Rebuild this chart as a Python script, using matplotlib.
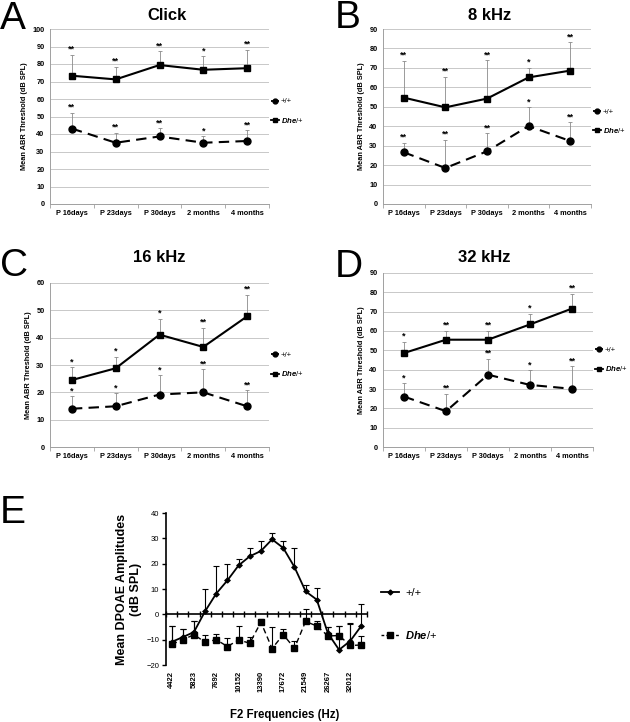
import matplotlib
matplotlib.use('Agg')
import matplotlib.pyplot as plt
from matplotlib.lines import Line2D
import numpy as np

plt.rcParams['font.family'] = ['Liberation Sans', 'DejaVu Sans']
plt.rcParams['mathtext.fontset'] = 'custom'
plt.rcParams['mathtext.it'] = 'Liberation Sans:italic:bold'
plt.rcParams['mathtext.rm'] = 'Liberation Sans:bold'

# ABR panels (A-D)
ages = ['P 16days', 'P 23days', 'P 30days', '2 months', '4 months']

click_dhe = [73.3, 71.2, 79.4, 76.7, 77.6]
click_dhe_top = [85.2, 78.3, 87.3, 84.4, 88.0]
click_dhe_sig = ['**', '**', '**', '*', '**']
click_wt = [43.1, 35.0, 38.6, 35.0, 36.0]
click_wt_top = [52.2, 40.7, 43.2, 38.6, 42.1]
click_wt_sig = ['**', '**', '**', '*', '**']

k8_dhe = [54.7, 49.7, 54.2, 65.1, 68.6]
k8_dhe_top = [73.5, 65.3, 74.0, 70.1, 83.1]
k8_dhe_sig = ['**', '**', '**', '*', '**']
k8_wt = [26.6, 18.5, 27.1, 40.1, 32.4]
k8_wt_top = [31.5, 32.9, 36.3, 49.7, 42.0]
k8_wt_sig = ['**', '**', '**', '*', '**']

k16_dhe = [24.5, 28.8, 41.1, 36.6, 47.8]
k16_dhe_top = [29.1, 33.1, 46.9, 43.6, 55.6]
k16_dhe_sig = ['*', '*', '*', '**', '**']
k16_wt = [14.0, 14.9, 19.2, 20.0, 14.9]
k16_wt_top = [18.5, 19.7, 26.2, 28.4, 20.7]
k16_wt_sig = ['*', '*', '*', '**', '**']

k32_dhe = [48.6, 55.5, 55.5, 63.4, 71.6]
k32_dhe_top = [54.4, 60.1, 60.1, 69.0, 79.2]
k32_dhe_sig = ['*', '**', '**', '*', '**']
k32_wt = [26.1, 18.5, 37.4, 32.1, 30.1]
k32_wt_top = [33.0, 27.5, 45.7, 39.7, 41.7]
k32_wt_sig = ['*', '**', '**', '*', '**']

# DPOAE panel (E)
f2_labels = ['4422', '5823', '7692', '10152', '13390', '17672', '21549', '26267', '32012']
dp_wt = [-10.9, -9.0, -7.0, 1.2, 8.2, 13.4, 19.3, 22.9, 25.0, 29.6, 26.2, 18.7,
         9.1, 5.8, -7.5, -14.0, -10.5, -4.5]
dp_wt_top = [-4.5, -5.8, -2.5, 10.0, 19.0, 19.7, 21.8, 26.0, 28.9, 32.0, 29.0, 26.0,
             11.5, 10.2, -5.0, -4.5, -4.0, 4.0]
dp_dhe = [-11.8, -10.1, -8.0, -11.0, -10.0, -12.7, -10.1, -11.4, -3.1, -13.5, -8.0, -13.4,
          -2.8, -4.6, -8.5, -8.4, -12.3, -12.1]
dp_dhe_top = [-4.5, -5.8, -2.5, -8.2, -7.9, -9.5, -4.5, -8.8, -2.0, -4.9, -5.6, -10.4,
              2.0, -2.8, -5.0, -4.5, -3.6, -8.5]

W, H = 630, 722
fig = plt.figure(figsize=(W / 100, H / 100), dpi=100)


def rect(x0, y0, x1, y1):
    return [x0 / W, 1 - y1 / H, (x1 - x0) / W, (y1 - y0) / H]


dhe_label = r'$\mathit{Dhe}$/+'


def abr_panel(box, title, title_xy, letter, letter_xy, ymax,
              dhe, dhe_top, dhe_sig, wt, wt_top, wt_sig, leg_y):
    ax = fig.add_axes(rect(*box))
    x = np.arange(len(ages))
    ax.set_xlim(-0.5, len(ages) - 0.5)
    ax.set_ylim(0, ymax)
    ax.set_yticks(np.arange(0, ymax + 1, 10))
    ax.grid(axis='y', color='#c8c8c8', lw=0.7)
    ax.set_axisbelow(True)
    for s in ['top', 'right']:
        ax.spines[s].set_visible(False)
    for s in ['left', 'bottom']:
        ax.spines[s].set_color('#a0a0a0')
        ax.spines[s].set_linewidth(0.7)
    ax.set_xticks(np.arange(-0.5, len(ages), 1.0))
    ax.set_xticklabels([])
    ax.set_xticks(x, minor=True)
    ax.set_xticklabels(ages, minor=True, fontsize=5.3, fontweight='bold')
    ax.tick_params(axis='x', which='major', length=3, color='#a0a0a0', width=0.6)
    ax.tick_params(axis='x', which='minor', length=0, pad=4)
    ax.tick_params(axis='y', length=0, labelsize=5.3, pad=4)
    for lab in ax.get_yticklabels():
        lab.set_fontweight('bold')
    ax.set_ylabel('Mean ABR Threshold (dB SPL)', fontsize=5.3, fontweight='bold', labelpad=3)

    for vals, tops, sig, ls, mk in [(dhe, dhe_top, dhe_sig, '-', 's'),
                                    (wt, wt_top, wt_sig, (0, (5, 3)), 'o')]:
        vals = np.array(vals)
        tops = np.array(tops)
        ax.errorbar(x, vals, yerr=[np.zeros_like(vals), tops - vals], fmt='none',
                    ecolor='#8a8a8a', elinewidth=0.6, capsize=1.5, capthick=0.6, zorder=2)
        ax.plot(x, vals, color='black', lw=1.5, linestyle=ls, marker=mk,
                markersize=5, zorder=3)
        for xi, t, s in zip(x, tops, sig):
            ax.text(xi, t + ymax * 0.006, s, ha='center', va='bottom',
                    fontsize=6.5, fontweight='bold')

    handles = [Line2D([], [], color='black', lw=1.3, linestyle=(0, (2, 1.5)), marker='o', markersize=3.5),
               Line2D([], [], color='black', lw=1.3, marker='s', markersize=3.5)]
    ax.legend(handles, ['+/+', dhe_label], loc='center left',
              bbox_to_anchor=(1.0, leg_y), frameon=False, fontsize=5.6,
              borderaxespad=0.1, borderpad=0.1,
              handlelength=1.1, handletextpad=0.2, labelspacing=1.3, markerfirst=True)

    fig.text(title_xy[0] / W, 1 - title_xy[1] / H, title, ha='center', va='center',
             fontsize=12, fontweight='bold')
    fig.text(letter_xy[0] / W, 1 - letter_xy[1] / H, letter, ha='left', va='baseline', fontsize=28)
    return ax


abr_panel((50, 29, 269, 204), 'Click', (167, 16), 'A', (0, 29), 100,
          click_dhe, click_dhe_top, click_dhe_sig, click_wt, click_wt_top, click_wt_sig, 0.53)
abr_panel((383, 29, 591, 204), '8 kHz', (490, 16), 'B', (335, 28), 90,
          k8_dhe, k8_dhe_top, k8_dhe_sig, k8_wt, k8_wt_top, k8_wt_sig, 0.47)
abr_panel((50, 283, 269, 447), '16 kHz', (159, 257), 'C', (0, 276), 60,
          k16_dhe, k16_dhe_top, k16_dhe_sig, k16_wt, k16_wt_top, k16_wt_sig, 0.5)
abr_panel((383, 273, 593, 447), '32 kHz', (484, 257), 'D', (335, 277), 90,
          k32_dhe, k32_dhe_top, k32_dhe_sig, k32_wt, k32_wt_top, k32_wt_sig, 0.5)

# Panel E
ax = fig.add_axes(rect(166, 513, 367, 665))
n = len(dp_wt)
xe = np.arange(n)
ax.set_xlim(-0.5, n - 0.5)
ax.set_ylim(-20, 40)
ax.set_yticks(np.arange(-20, 41, 10))
for s in ['top', 'right', 'bottom']:
    ax.spines[s].set_visible(False)
ax.spines['left'].set_linewidth(1.2)
ax.tick_params(axis='y', direction='out', length=3, width=1, labelsize=5.5, pad=2)
ax.set_xticks(xe[::2])
ax.set_xticklabels(f2_labels, rotation=90, fontsize=5.5, fontweight='bold')
ax.tick_params(axis='x', length=0, pad=4)

zero_ax = ax.secondary_xaxis(20 / 60)
zero_ax.set_xticks(np.arange(-0.5, n, 1.0))
zero_ax.set_xticklabels([])
zero_ax.tick_params(direction='inout', length=5, width=1)
zero_ax.spines['bottom'].set_linewidth(1.2)

wt = np.array(dp_wt)
wt_top = np.array(dp_wt_top)
dhe = np.array(dp_dhe)
dhe_top = np.array(dp_dhe_top)
ax.errorbar(xe, dhe, yerr=[np.zeros(n), dhe_top - dhe], fmt='none', ecolor='black',
            elinewidth=0.8, capsize=2, capthick=0.8, zorder=2)
ax.errorbar(xe, wt, yerr=[np.zeros(n), wt_top - wt], fmt='none', ecolor='black',
            elinewidth=0.8, capsize=2, capthick=0.8, zorder=2)
ax.plot(xe, dhe, color='black', lw=1.0, linestyle=(0, (4, 2.5)), marker='s', markersize=4, zorder=3)
ax.plot(xe, wt, color='black', lw=1.3, marker='D', markersize=2.5, zorder=4)

ax.set_ylabel('Mean DPOAE Amplitudes\n(dB SPL)', fontsize=9, fontweight='bold', labelpad=3)
fig.text(285 / W, 1 - 715 / H, 'F2 Frequencies (Hz)',
         ha='center', va='center', fontsize=8.3, fontweight='bold')

handles = [Line2D([], [], color='black', lw=1.3, marker='D', markersize=2.5),
           Line2D([], [], color='black', lw=1.0, linestyle=(0, (2, 1.5)), marker='s', markersize=4)]
ax.legend(handles, ['+/+', dhe_label], loc='center left', bbox_to_anchor=(1.02, 0.335),
          frameon=False, fontsize=8, handlelength=1.6, handletextpad=0.6, labelspacing=2.8)

fig.text(0 / W, 1 - 523 / H, 'E', ha='left', va='baseline', fontsize=28)

plt.savefig('out.png', dpi=100)
